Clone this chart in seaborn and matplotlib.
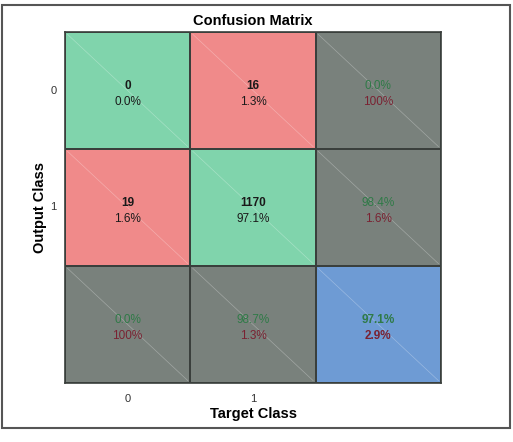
import matplotlib
matplotlib.use("Agg")
import matplotlib.pyplot as plt
import numpy as np
import seaborn as sns
from matplotlib.colors import ListedColormap
from matplotlib.patches import Rectangle

plt.rcParams['font.family'] = ['Liberation Sans', 'DejaVu Sans']

# confusion matrix counts (rows = output class, cols = target class)
classes = ["0", "1"]
counts = [[0, 16],
          [19, 1170]]

total = sum(sum(r) for r in counts)
n = len(classes)

# colour codes for each cell: 0 green, 1 red, 2 grey, 3 blue
codes = np.zeros((n + 1, n + 1), dtype=int)
for i in range(n + 1):
    for j in range(n + 1):
        if i == n and j == n:
            codes[i, j] = 3
        elif i == n or j == n:
            codes[i, j] = 2
        elif i == j:
            codes[i, j] = 0
        else:
            codes[i, j] = 1

cmap = ListedColormap(["#80d4ac", "#f08a8a", "#79817c", "#6e9bd4"])
green_txt = "#2f7a47"
red_txt = "#7a2232"

fig = plt.figure(figsize=(5.13, 4.42), dpi=100)
ax = fig.add_axes([65 / 513, 1 - 383 / 442, 376 / 513, 351 / 442])

sns.heatmap(codes, cmap=cmap, vmin=-0.5, vmax=3.5, cbar=False,
            linewidths=1.2, linecolor="#3a3f3c", ax=ax, square=False)

def pct(v):
    s = "%.1f%%" % (100 * v)
    return "100%" if s == "100.0%" else s

for i in range(n + 1):
    for j in range(n + 1):
        ax.plot([j + 0.02, j + 0.98], [i + 0.02, i + 0.98], color="white",
                lw=0.5, alpha=0.3)
        if i < n and j < n:
            c = counts[i][j]
            ax.text(j + 0.5, i + 0.46, str(c), ha="center", va="center",
                    fontsize=8.5, fontweight="bold", color="#1a1a1a")
            ax.text(j + 0.5, i + 0.595, pct(c / total), ha="center",
                    va="center", fontsize=8.5, color="#1a1a1a")
        else:
            if i == n and j == n:
                good = sum(counts[k][k] for k in range(n))
                tot = total
                w = "bold"
            elif i == n:
                good = counts[j][j]
                tot = sum(counts[k][j] for k in range(n))
                w = "normal"
            else:
                good = counts[i][i]
                tot = sum(counts[i])
                w = "normal"
            acc = good / tot
            ax.text(j + 0.5, i + 0.46, pct(acc), ha="center", va="center",
                    fontsize=8.5, color=green_txt, fontweight=w)
            ax.text(j + 0.5, i + 0.595, pct(1 - acc), ha="center",
                    va="center", fontsize=8.5, color=red_txt, fontweight=w)

ax.set_xticks([k + 0.5 for k in range(n)])
ax.set_xticklabels(classes, fontsize=8, color="#333333")
ax.set_yticks([k + 0.5 for k in range(n)])
ax.set_yticklabels(classes, fontsize=8, color="#333333", rotation=0)
ax.tick_params(axis="x", length=0, pad=8)
ax.tick_params(axis="y", length=0, pad=6)
ax.set_xlabel("Target Class", fontsize=10.5, fontweight="bold", labelpad=2)
ax.set_ylabel("Output Class", fontsize=10.5, fontweight="bold")
ax.yaxis.set_label_coords(-18 / 376, 0.5)
ax.set_title("Confusion Matrix", fontsize=10.5, fontweight="bold", pad=5)
for s in ax.spines.values():
    s.set_visible(True)
    s.set_color("#3a3f3c")
    s.set_linewidth(1.2)

fig.patches.append(Rectangle((1.5 / 513, 1 - 428 / 442), 508.5 / 513, 423 / 442,
                             transform=fig.transFigure, fill=False,
                             edgecolor="#555555", lw=1.5))

fig.savefig("out.png", dpi=100)
